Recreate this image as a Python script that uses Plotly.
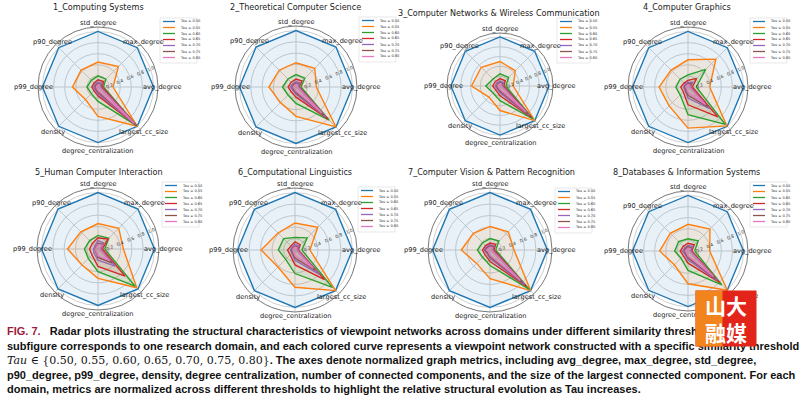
import math
import plotly.graph_objects as go

W, H = 800, 395

metrics = ["avg_degree", "max_degree", "std_degree", "p90_degree",
           "p99_degree", "density", "degree_centralization", "largest_cc_size"]
taus = ["0.50", "0.55", "0.60", "0.65", "0.70", "0.75", "0.80"]
domains = ["1_Computing Systems", "2_Theoretical Computer Science",
           "3_Computer Networks & Wireless Communication", "4_Computer Graphics",
           "5_Human Computer Interaction", "6_Computational Linguistics",
           "7_Computer Vision & Pattern Recognition", "8_Databases & Information Systems"]

# values per domain, one row per Tau, columns follow `metrics`
vals_1 = [
    [1, 1, 1, 1, 1, 1, 1, 1],
    [0.27, 0.52, 0.45, 0.43, 0.46, 0.32, 0.53, 1.00],
    [0.10, 0.20, 0.20, 0.17, 0.20, 0.17, 0.26, 0.99],
    [0.08, 0.14, 0.13, 0.10, 0.11, 0.10, 0.16, 0.98],
    [0.06, 0.10, 0.09, 0.07, 0.08, 0.07, 0.12, 0.96],
    [0.05, 0.07, 0.06, 0.05, 0.05, 0.05, 0.09, 0.94],
    [0.03, 0.05, 0.04, 0.03, 0.03, 0.03, 0.06, 0.92],
]
vals_2 = [
    [1, 1, 1, 1, 1, 1, 1, 1],
    [0.36, 0.47, 0.43, 0.42, 0.48, 0.39, 0.52, 1.00],
    [0.09, 0.22, 0.22, 0.20, 0.24, 0.20, 0.29, 0.83],
    [0.06, 0.15, 0.14, 0.12, 0.14, 0.12, 0.18, 0.80],
    [0.05, 0.10, 0.10, 0.08, 0.10, 0.08, 0.13, 0.75],
    [0.04, 0.07, 0.07, 0.06, 0.07, 0.06, 0.10, 0.70],
    [0.03, 0.05, 0.05, 0.04, 0.05, 0.04, 0.07, 0.65],
]
vals_3 = [
    [1, 1, 1, 1, 1, 1, 1, 1],
    [0.27, 0.44, 0.50, 0.54, 0.58, 0.32, 0.50, 1.00],
    [0.12, 0.25, 0.25, 0.20, 0.29, 0.20, 0.30, 0.95],
    [0.08, 0.15, 0.15, 0.13, 0.15, 0.12, 0.20, 0.90],
    [0.06, 0.10, 0.10, 0.09, 0.10, 0.08, 0.14, 0.85],
    [0.05, 0.07, 0.07, 0.06, 0.07, 0.06, 0.10, 0.80],
    [0.03, 0.05, 0.05, 0.04, 0.05, 0.04, 0.07, 0.75],
]
vals_4 = [
    [1, 1, 1, 1, 1, 1, 1, 1],
    [0.39, 0.71, 0.49, 0.43, 0.52, 0.48, 0.74, 0.99],
    [0.15, 0.45, 0.22, 0.20, 0.22, 0.20, 0.50, 0.95],
    [0.08, 0.22, 0.12, 0.10, 0.13, 0.12, 0.32, 0.76],
    [0.05, 0.12, 0.08, 0.07, 0.08, 0.08, 0.20, 0.55],
    [0.04, 0.08, 0.06, 0.05, 0.06, 0.06, 0.15, 0.50],
    [0.03, 0.05, 0.04, 0.04, 0.04, 0.04, 0.10, 0.45],
]
vals_5 = [
    [1, 1, 1, 1, 1, 1, 1, 1],
    [0.45, 0.52, 0.45, 0.43, 0.54, 0.40, 0.52, 0.97],
    [0.12, 0.27, 0.24, 0.21, 0.24, 0.24, 0.40, 0.93],
    [0.08, 0.25, 0.20, 0.14, 0.15, 0.15, 0.31, 0.68],
    [0.05, 0.15, 0.15, 0.08, 0.08, 0.10, 0.20, 0.43],
    [0.04, 0.12, 0.10, 0.05, 0.05, 0.06, 0.15, 0.35],
    [0.03, 0.10, 0.08, 0.04, 0.04, 0.05, 0.12, 0.30],
]
vals_6 = [
    [1, 1, 1, 1, 1, 1, 1, 1],
    [0.26, 0.56, 0.47, 0.42, 0.59, 0.42, 0.65, 1.00],
    [0.12, 0.30, 0.22, 0.28, 0.29, 0.23, 0.41, 0.92],
    [0.06, 0.13, 0.14, 0.10, 0.13, 0.12, 0.26, 0.73],
    [0.05, 0.10, 0.10, 0.07, 0.08, 0.08, 0.18, 0.60],
    [0.04, 0.07, 0.07, 0.05, 0.06, 0.06, 0.14, 0.50],
    [0.03, 0.05, 0.05, 0.04, 0.04, 0.04, 0.10, 0.45],
]
vals_7 = [
    [1, 1, 1, 1, 1, 1, 1, 1],
    [0.42, 0.45, 0.41, 0.41, 0.50, 0.33, 0.50, 1.00],
    [0.10, 0.22, 0.20, 0.18, 0.22, 0.18, 0.27, 0.97],
    [0.07, 0.14, 0.12, 0.11, 0.13, 0.12, 0.20, 0.90],
    [0.05, 0.10, 0.09, 0.08, 0.10, 0.08, 0.15, 0.85],
    [0.04, 0.08, 0.07, 0.06, 0.08, 0.06, 0.12, 0.80],
    [0.03, 0.06, 0.05, 0.04, 0.06, 0.04, 0.09, 0.75],
]
vals_8 = [
    [1, 1, 1, 1, 1, 1, 1, 1],
    [0.39, 0.56, 0.48, 0.45, 0.51, 0.35, 0.59, 1.00],
    [0.12, 0.26, 0.22, 0.24, 0.24, 0.18, 0.35, 0.86],
    [0.07, 0.16, 0.14, 0.12, 0.14, 0.12, 0.22, 0.80],
    [0.05, 0.12, 0.10, 0.08, 0.10, 0.08, 0.16, 0.75],
    [0.04, 0.08, 0.08, 0.06, 0.07, 0.06, 0.12, 0.70],
    [0.03, 0.06, 0.05, 0.04, 0.05, 0.04, 0.09, 0.65],
]
all_vals = [vals_1, vals_2, vals_3, vals_4, vals_5, vals_6, vals_7, vals_8]

colors = ["#1f77b4", "#ff7f0e", "#2ca02c", "#d62728", "#9467bd", "#8c564b", "#e377c2"]

# layout geometry in pixels: polar centre x, centre y, radius
geom = [(98, 87, 60), (296, 87, 61), (500, 86, 53), (688, 87, 60),
        (98, 249, 61), (295, 250, 62), (490, 250, 62), (688, 251, 60)]
title_pos = [(98, 7), (295, 7), (499, 13), (687, 7),
             (99, 172), (295, 172), (491, 172), (686, 172)]
legend_pos = [(160, 18), (359, 17), (557, 18), (750, 18),
              (162, 182), (358, 187), (555, 188), (750, 182)]

RMAX = 1.08


def px(x):
    return x / W


def py(y):
    return 1 - y / H


def rgba(hexc, a):
    h = hexc.lstrip("#")
    return "rgba(%d,%d,%d,%s)" % (int(h[0:2], 16), int(h[2:4], 16), int(h[4:6], 16), a)


fig = go.Figure()
annotations = []
shapes = []
layout_polars = {}

for k, (name, vals) in enumerate(zip(domains, all_vals)):
    pname = "polar" if k == 0 else "polar%d" % (k + 1)
    cx, cy, R = geom[k]
    for j, tau in enumerate(taus):
        fig.add_trace(go.Scatterpolar(
            r=vals[j] + [vals[j][0]],
            theta=metrics + [metrics[0]],
            subplot=pname,
            mode="lines",
            fill="toself",
            fillcolor=rgba(colors[j], 0.1),
            line=dict(color=colors[j], width=1.4),
            showlegend=False,
            hoverinfo="skip",
        ))
    layout_polars[pname] = dict(
        domain=dict(x=[px(cx - R), px(cx + R)], y=[py(cy + R), py(cy - R)]),
        bgcolor="white",
        angularaxis=dict(type="category", categoryarray=metrics, direction="counterclockwise",
                         rotation=0, showticklabels=False, ticks="",
                         showline=True, linecolor="#555", linewidth=0.8,
                         gridcolor="#d0d0d0", gridwidth=0.7),
        radialaxis=dict(range=[0, RMAX], tickvals=[0.2, 0.4, 0.6, 0.8, 1.0],
                        ticktext=["0.2", "0.4", "0.6", "0.8", "1.0"],
                        angle=22.5, tickangle=0, showline=False, ticks="",
                        gridcolor="#d0d0d0", gridwidth=0.7,
                        tickfont=dict(size=4.5, color="#333", family="DejaVu Sans")),
    )
    # title
    tx, ty = title_pos[k]
    annotations.append(dict(x=px(tx), y=py(ty), xref="paper", yref="paper", text=name,
                            showarrow=False, xanchor="center", yanchor="middle",
                            font=dict(size=8.1, color="#222", family="DejaVu Sans")))
    # angular labels
    for i, m in enumerate(metrics):
        a = math.radians(i * 360 / len(metrics))
        lx = cx + 1.07 * R * math.cos(a)
        ly = cy - 1.07 * R * math.sin(a)
        annotations.append(dict(x=px(lx), y=py(ly), xref="paper", yref="paper", text=m,
                                showarrow=False, xanchor="center", yanchor="middle",
                                font=dict(size=6.6, color="#222", family="DejaVu Sans")))
    # legend
    lx0, ly0 = legend_pos[k]
    lw = 33 if k == 2 else 37
    step = 6.0
    shapes.append(dict(type="rect", xref="paper", yref="paper",
                       x0=px(lx0), x1=px(lx0 + lw), y0=py(ly0 + 3 + step * len(taus)), y1=py(ly0),
                       line=dict(color="#d8d8d8", width=0.6), fillcolor="rgba(255,255,255,0.85)"))
    for j, tau in enumerate(taus):
        yy = ly0 + 3.5 + step * j
        shapes.append(dict(type="line", xref="paper", yref="paper",
                           x0=px(lx0 + 3), x1=px(lx0 + 15), y0=py(yy), y1=py(yy),
                           line=dict(color=colors[j], width=1.3)))
        annotations.append(dict(x=px(lx0 + 17.5), y=py(yy), xref="paper", yref="paper",
                                text="Tau = " + tau, showarrow=False,
                                xanchor="left", yanchor="middle",
                                font=dict(size=3.6, color="#333", family="DejaVu Sans")))

# caption
fig_label = "FIG. 7."
caption_lines = [
    "Radar plots illustrating the structural characteristics of viewpoint networks across domains under different similarity thresholds.",
    "subfigure corresponds to one research domain, and each colored curve represents a viewpoint network constructed with a specific similarity threshold",
    ". The axes denote normalized graph metrics, including avg_degree, max_degree, std_degree,",
    "p90_degree, p99_degree, density, degree centralization, number of connected components, and the size of the largest connected component. For each",
    "domain, metrics are normalized across different thresholds to highlight the relative structural evolution as Tau increases.",
]
tau_set = "<i>Tau</i> \u2208 {0.50, 0.55, 0.60, 0.65, 0.70, 0.75, 0.80}"
line_y = [331, 346, 360, 375, 389]
texts = [
    '<span style="color:#9b1c3c">' + fig_label + '</span>\u00a0\u00a0\u00a0' + caption_lines[0],
    caption_lines[1],
    '<span style="font-family:\'DejaVu Serif\';font-weight:normal">' + tau_set + '</span>' + caption_lines[2],
    caption_lines[3],
    caption_lines[4],
]
for t, yy in zip(texts, line_y):
    annotations.append(dict(x=px(5), y=py(yy), xref="paper", yref="paper", text=t,
                            showarrow=False, xanchor="left", yanchor="middle",
                            font=dict(size=11, color="#111", family="Liberation Sans", weight="bold")))

# badge in the lower right corner
annotations.append(dict(x=px(695), y=py(290), xref="paper", yref="paper", text=" ",
                        showarrow=False, xanchor="left", yanchor="top", width=60, height=55,
                        bgcolor="#e3241b", borderpad=0))
annotations.append(dict(x=px(695), y=py(290), xref="paper", yref="paper", text=" ",
                        showarrow=False, xanchor="left", yanchor="top", width=26, height=55,
                        bgcolor="#f2841e", borderpad=0))
annotations.append(dict(x=px(726), y=py(318), xref="paper", yref="paper", text="山大<br>融媒",
                        showarrow=False, xanchor="center", yanchor="middle",
                        font=dict(size=21, color="white", family="Noto Sans CJK SC", weight="bold")))

fig.update_layout(width=W, height=H, margin=dict(l=0, r=0, t=0, b=0),
                  paper_bgcolor="white", showlegend=False,
                  annotations=annotations, shapes=shapes, **layout_polars)
fig.write_html("out.html", config={"displayModeBar": False},
               post_script="document.body.style.margin='0px';")
